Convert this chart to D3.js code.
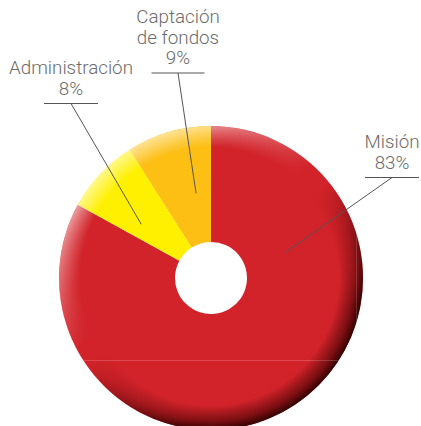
<!DOCTYPE html>
<html>
<head>
<meta charset="utf-8">
<script src="https://cdn.jsdelivr.net/npm/d3@7"></script>
<style>
  body { margin: 0; background: #fff; }
  svg { display: block; }
  .lbl { font-family: Roboto, "Liberation Sans", sans-serif; font-weight: 300; font-size: 18.8px; fill: #6b6b6b; }
</style>
</head>
<body>
<div class="chart"></div>
<script>
// data
let categories = ['Misión', 'Administración', 'Captación de fondos'];
let values = [83, 8, 9];
let colors = ['#d2232a', '#fff000', '#fdbf14'];
let labelLines = [['Misión', '83%'], ['Administración', '8%'], ['Captación', 'de fondos', '9%']];

let width = 421, height = 426;
let cx = 211, cy = 278;
let outerR = 152, innerR = 36;

let svg = d3.select('.chart')
	.append('svg')
	.attr('width', width)
	.attr('height', height);

let defs = svg.append('defs');

// edge shading: radial band, masked by a diagonal gradient
let edge = defs.append('radialGradient').attr('id', 'edgeDark')
	.attr('cx', '50%').attr('cy', '50%').attr('r', '50%');
edge.append('stop').attr('offset', '84%').attr('stop-color', '#2a0000').attr('stop-opacity', 0);
edge.append('stop').attr('offset', '94%').attr('stop-color', '#3a0000').attr('stop-opacity', 0.55);
edge.append('stop').attr('offset', '100%').attr('stop-color', '#2a0000').attr('stop-opacity', 0.95);

let edgeL = defs.append('radialGradient').attr('id', 'edgeLight')
	.attr('cx', '50%').attr('cy', '50%').attr('r', '50%');
edgeL.append('stop').attr('offset', '86%').attr('stop-color', '#fff').attr('stop-opacity', 0);
edgeL.append('stop').attr('offset', '95%').attr('stop-color', '#fff').attr('stop-opacity', 0.35);
edgeL.append('stop').attr('offset', '100%').attr('stop-color', '#fff').attr('stop-opacity', 0.55);

let mDark = defs.append('linearGradient').attr('id', 'mDarkG')
	.attr('x1', '0.2').attr('y1', '0.1').attr('x2', '0.85').attr('y2', '0.95');
mDark.append('stop').attr('offset', '0.45').attr('stop-color', '#000');
mDark.append('stop').attr('offset', '0.8').attr('stop-color', '#fff');
defs.append('mask').attr('id', 'mDark').attr('maskContentUnits', 'userSpaceOnUse')
	.append('rect').attr('x', cx - outerR).attr('y', cy - outerR)
	.attr('width', outerR * 2).attr('height', outerR * 2).attr('fill', 'url(#mDarkG)');

let mLight = defs.append('linearGradient').attr('id', 'mLightG')
	.attr('x1', '0.15').attr('y1', '0.1').attr('x2', '0.7').attr('y2', '0.8');
mLight.append('stop').attr('offset', '0.1').attr('stop-color', '#fff');
mLight.append('stop').attr('offset', '0.5').attr('stop-color', '#000');
defs.append('mask').attr('id', 'mLight').attr('maskContentUnits', 'userSpaceOnUse')
	.append('rect').attr('x', cx - outerR).attr('y', cy - outerR)
	.attr('width', outerR * 2).attr('height', outerR * 2).attr('fill', 'url(#mLightG)');

let g = svg.append('g').attr('transform', 'translate(' + cx + ',' + cy + ')');

let pie = d3.pie().sort(null).value(d => d);
let arcs = pie(values);
let arc = d3.arc().innerRadius(innerR).outerRadius(outerR);

g.selectAll('.slice')
	.data(arcs)
	.enter()
	.append('path')
	.attr('class', 'slice')
	.attr('d', arc)
	.style('fill', (d, i) => colors[i]);

svg.append('circle').attr('cx', cx).attr('cy', cy).attr('r', outerR)
	.attr('fill', 'url(#edgeLight)').attr('mask', 'url(#mLight)');
svg.append('circle').attr('cx', cx).attr('cy', cy).attr('r', outerR)
	.attr('fill', 'url(#edgeDark)').attr('mask', 'url(#mDark)');

// faint guide lines seen in the original
svg.append('line').attr('x1', cx - outerR + 4).attr('x2', 357).attr('y1', 360.5).attr('y2', 360.5)
	.style('stroke', '#fff').style('stroke-opacity', 0.18).style('stroke-width', 1);
svg.append('line').attr('x1', 356.5).attr('x2', 356.5).attr('y1', 208).attr('y2', 360)
	.style('stroke', '#fff').style('stroke-opacity', 0.15).style('stroke-width', 1);

// labels: anchor position, underline width, pointer (angle in degrees clockwise from top, radius)
let labelPos = [
	{x: 392, y: 148, w: 54, ang: 71, r: 79},
	{x: 71, y: 74, w: 54, ang: 307.6, r: 88},
	{x: 178, y: 23, w: 53, ang: 350, r: 86}
];
let lineH = 20.5;

labelLines.forEach((lines, i) => {
	let p = labelPos[i];
	let t = svg.append('text').attr('class', 'lbl').attr('text-anchor', 'middle');
	lines.forEach((s, k) => {
		t.append('tspan').attr('x', p.x).attr('y', p.y + k * lineH).text(s);
	});
	let uy = p.y + (lines.length - 1) * lineH + 9;
	svg.append('line')
		.attr('x1', p.x - p.w / 2).attr('x2', p.x + p.w / 2)
		.attr('y1', uy).attr('y2', uy)
		.style('stroke', '#555').style('stroke-width', 1);
	let a = p.ang * Math.PI / 180;
	svg.append('line')
		.attr('x1', p.x).attr('y1', uy)
		.attr('x2', cx + p.r * Math.sin(a)).attr('y2', cy - p.r * Math.cos(a))
		.style('stroke', '#555').style('stroke-width', 1);
});
</script>
</body>
</html>
